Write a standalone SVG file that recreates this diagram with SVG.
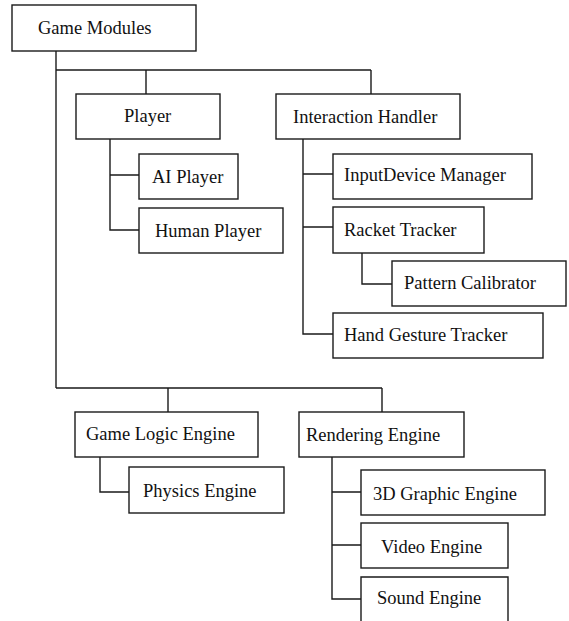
<svg xmlns="http://www.w3.org/2000/svg" width="569" height="621" viewBox="0 0 569 621">
<style>
.box{fill:#fff;stroke:#1a1a1a;stroke-width:1.4}
.lbl{font-family:"Liberation Serif","Times New Roman",serif;font-size:18.5px;fill:#111}
.con{fill:none;stroke:#1a1a1a;stroke-width:1.4}
</style>
<rect width="569" height="621" fill="#fff"/>
<g id="connectors" class="con">
<path d="M56,51 V388"/>
<path d="M56,70 H371 M146,70 V94 M371,70 V94"/>
<path d="M110,139 V230 H139 M110,175 H139"/>
<path d="M303,139 V334 H333 M303,174 H333 M303,227 H333"/>
<path d="M362,253 V284 H392"/>
<path d="M56,388 H382 M168,388 V412 M382,388 V412"/>
<path d="M100,457 V492 H129"/>
<path d="M332,457 V599 H361 M332,492 H361 M332,545 H361"/>
</g>
<g id="game-modules"><rect class="box" x="12" y="5" width="184" height="46"/><text class="lbl" x="38" y="34">Game Modules</text></g>
<g id="player"><rect class="box" x="76" y="94" width="144" height="45"/><text class="lbl" x="124" y="122">Player</text></g>
<g id="ai-player"><rect class="box" x="139" y="154" width="99" height="45"/><text class="lbl" x="152" y="183">AI Player</text></g>
<g id="human-player"><rect class="box" x="139" y="208" width="144" height="45"/><text class="lbl" x="155" y="237">Human Player</text></g>
<g id="interaction-handler"><rect class="box" x="276" y="94" width="184" height="45"/><text class="lbl" x="293" y="123">Interaction Handler</text></g>
<g id="inputdevice-manager"><rect class="box" x="333" y="154" width="199" height="45"/><text class="lbl" x="344" y="181">InputDevice Manager</text></g>
<g id="racket-tracker"><rect class="box" x="333" y="207" width="151" height="46"/><text class="lbl" x="344" y="236">Racket Tracker</text></g>
<g id="pattern-calibrator"><rect class="box" x="392" y="261" width="174" height="45"/><text class="lbl" x="404" y="289">Pattern Calibrator</text></g>
<g id="hand-gesture-tracker"><rect class="box" x="333" y="313" width="210" height="45"/><text class="lbl" x="344" y="341">Hand Gesture Tracker</text></g>
<g id="game-logic-engine"><rect class="box" x="75" y="412" width="183" height="45"/><text class="lbl" x="86" y="440">Game Logic Engine</text></g>
<g id="physics-engine"><rect class="box" x="129" y="467" width="155" height="46"/><text class="lbl" x="143" y="497">Physics Engine</text></g>
<g id="rendering-engine"><rect class="box" x="299" y="412" width="165" height="45"/><text class="lbl" x="306" y="441">Rendering Engine</text></g>
<g id="3d-graphic-engine"><rect class="box" x="361" y="470" width="184" height="45"/><text class="lbl" x="373" y="500">3D Graphic Engine</text></g>
<g id="video-engine"><rect class="box" x="361" y="523" width="147" height="45"/><text class="lbl" x="381" y="553">Video Engine</text></g>
<g id="sound-engine"><path class="box" d="M361,625 V577 H508 V625"/><text class="lbl" x="377" y="604">Sound Engine</text></g>
</svg>
